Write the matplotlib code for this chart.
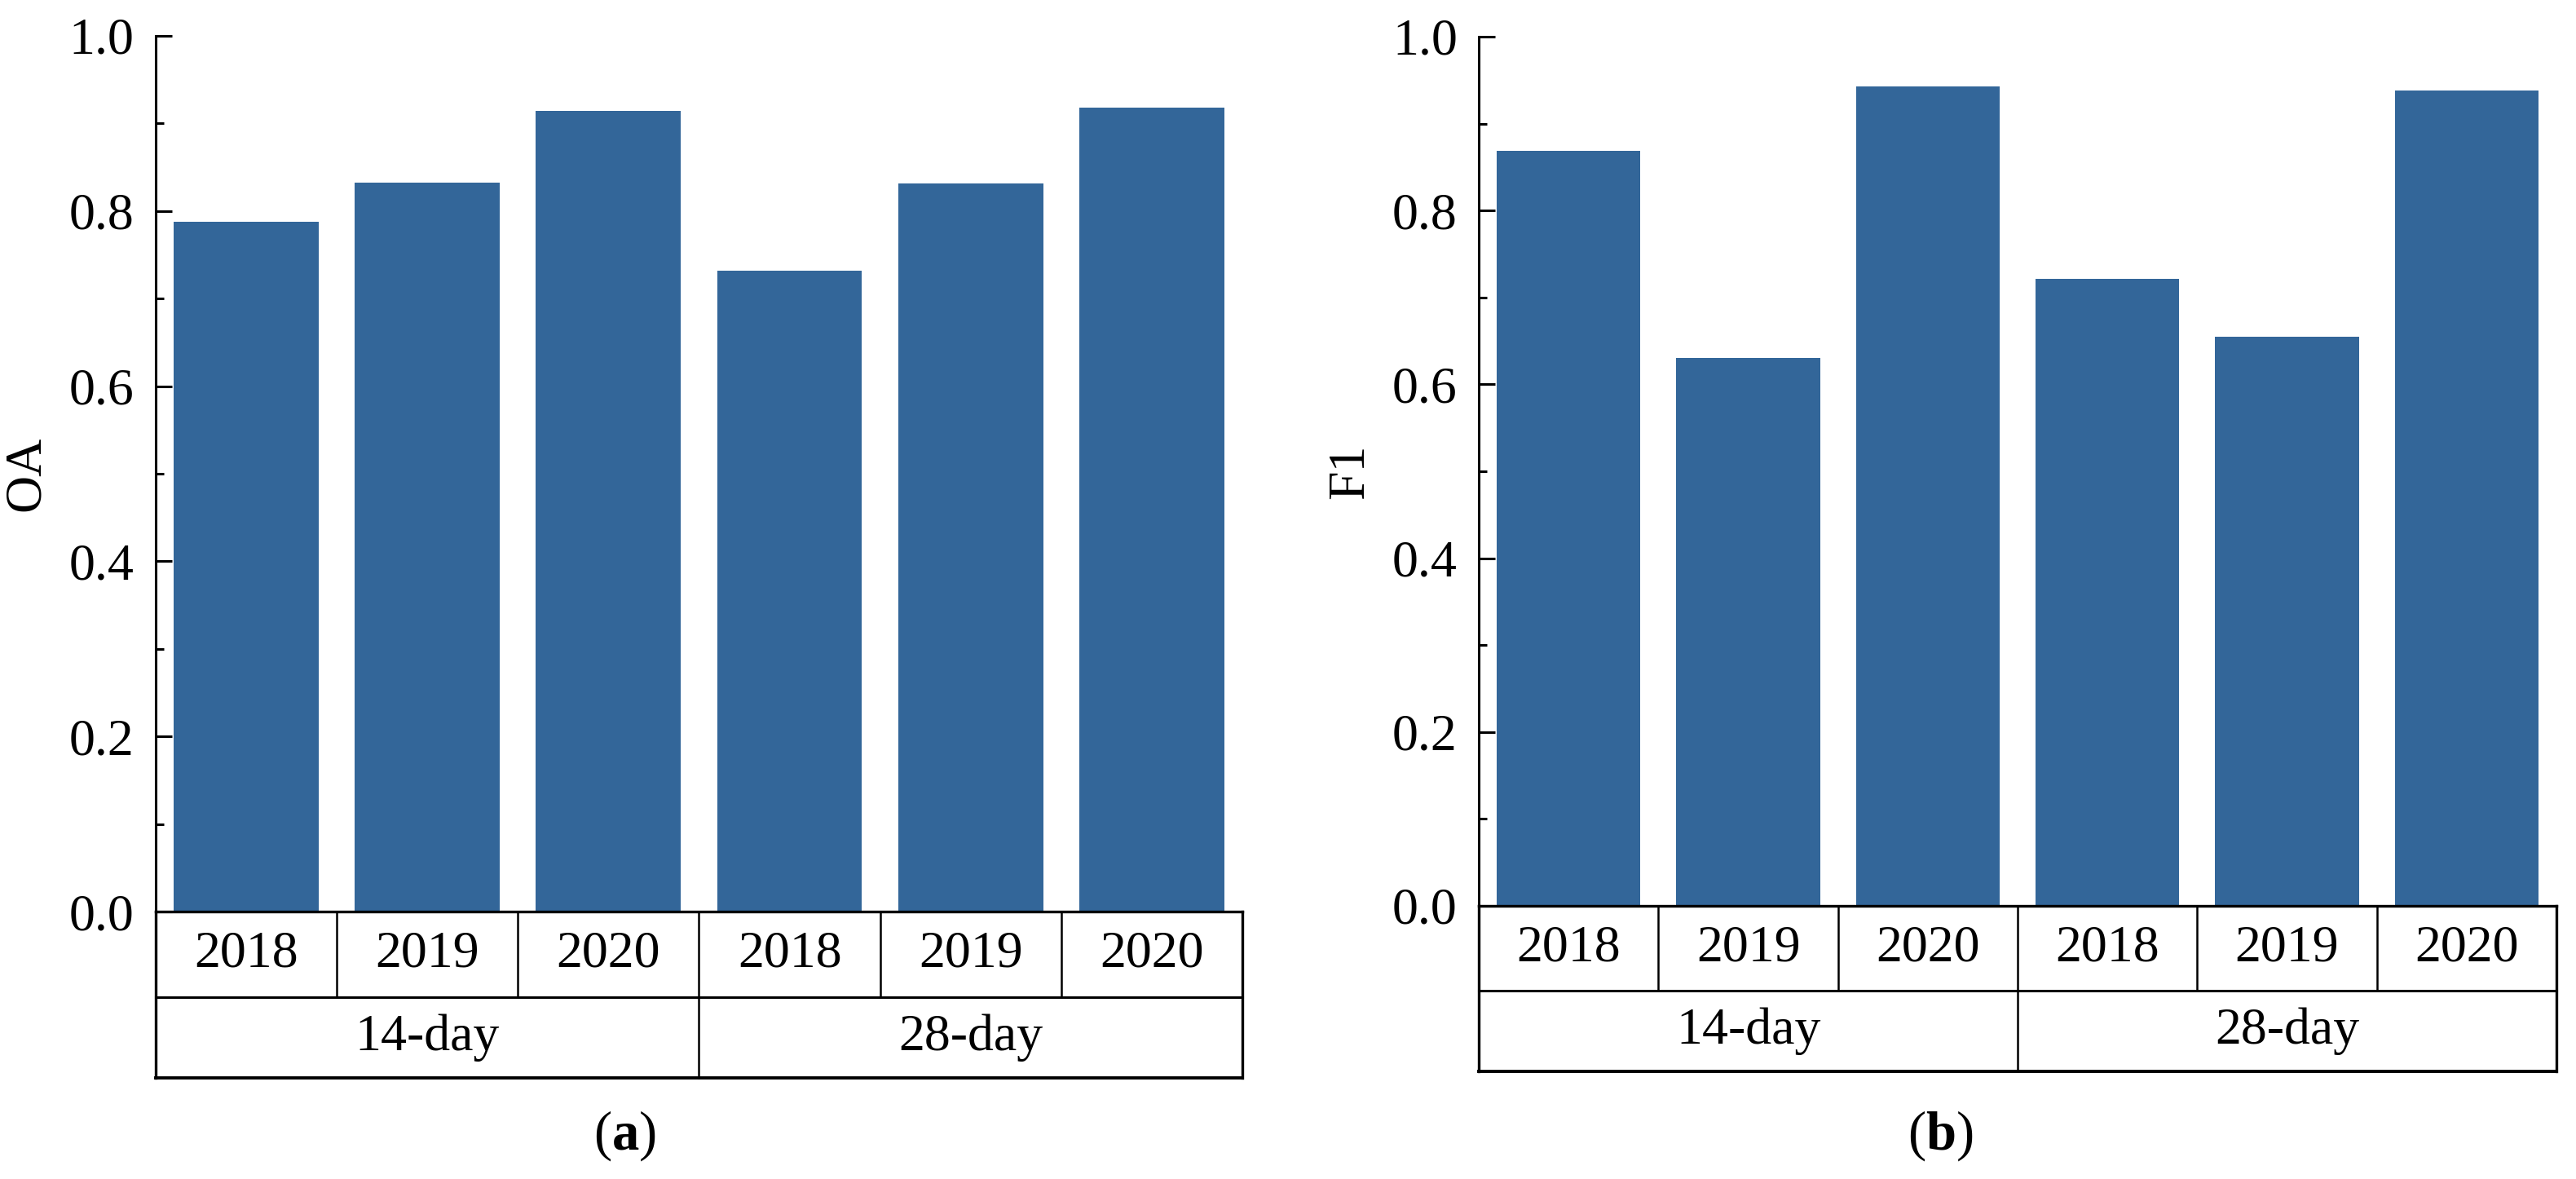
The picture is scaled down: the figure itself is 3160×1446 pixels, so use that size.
import matplotlib
matplotlib.use("Agg")
import matplotlib.pyplot as plt
from matplotlib.ticker import MultipleLocator

plt.rcParams['font.family'] = ['Liberation Serif', 'DejaVu Serif']
plt.rcParams['mathtext.fontset'] = 'custom'
plt.rcParams['mathtext.rm'] = 'Liberation Serif'
plt.rcParams['mathtext.bf'] = 'Liberation Serif:bold'

# data
years = ['2018', '2019', '2020', '2018', '2019', '2020']
groups = ['14-day', '28-day']
oa = [0.788, 0.832, 0.914, 0.732, 0.831, 0.918]
f1 = [0.869, 0.630, 0.943, 0.721, 0.655, 0.938]

bar_color = '#336699'
fs = 46

fig = plt.figure(figsize=(31.6, 14.46), dpi=100)

# axes rectangles in figure fractions (left, bottom, width, height)
ax_a = fig.add_axes([0.0604, 0.2268, 0.4219, 0.7428])
ax_b = fig.add_axes([0.5741, 0.2317, 0.4183, 0.7372])


def draw_panel(ax, values, ylabel):
  xs = range(len(values))
  ax.bar(xs, values, width=0.8, color=bar_color, zorder=2)
  ax.set_xlim(-0.5, len(values) - 0.5)
  ax.set_ylim(0, 1.0)

  for s in ['top', 'right', 'bottom']:
    ax.spines[s].set_visible(False)
  ax.spines['left'].set_linewidth(2.2)

  ax.yaxis.set_major_locator(MultipleLocator(0.2))
  ax.yaxis.set_minor_locator(MultipleLocator(0.1))
  ax.tick_params(axis='y', which='major', direction='in', length=14.5, width=2.2,
                 pad=19, labelsize=fs)
  ax.tick_params(axis='y', which='minor', direction='in', length=7, width=2.2)
  ax.set_yticklabels(['%.1f' % v for v in ax.get_yticks()])
  ax.set_xticks([])
  ax.set_ylabel(ylabel, fontsize=fs)
  ax.yaxis.set_label_coords(-0.097, 0.5)

  # category table below the axis
  tr = ax.get_xaxis_transform()
  n = len(values)
  r1, r2 = -0.098, -0.19
  lo, hi = -0.5, n - 0.5
  kw = dict(transform=tr, clip_on=False, color='black', solid_capstyle='projecting')
  ax.plot([lo, hi], [0, 0], lw=2.4, **kw)
  ax.plot([lo, hi], [r1, r1], lw=2.2, **kw)
  ax.plot([lo, hi], [r2, r2], lw=2.8, **kw)
  ax.plot([lo, lo], [0, r2], lw=2.4, **kw)
  ax.plot([hi, hi], [0, r2], lw=2.4, **kw)
  for i in range(1, n):
    ax.plot([i - 0.5, i - 0.5], [0, r1], lw=1.8, **kw)
  ax.plot([n / 2 - 0.5, n / 2 - 0.5], [r1, r2], lw=1.8, **kw)

  for i, y in enumerate(years):
    ax.text(i, r1 / 2, y, transform=tr, ha='center', va='center', fontsize=fs)
  per = n // len(groups)
  for j, g in enumerate(groups):
    ax.text(j * per + (per - 1) / 2, (r1 + r2) / 2, g, transform=tr,
            ha='center', va='center', fontsize=fs)


draw_panel(ax_a, oa, 'OA')
draw_panel(ax_b, f1, 'F1')

fig.text(766 / 3160, 1 - 1393 / 1446, r'($\mathbf{a}$)', ha='center', va='center', fontsize=48)
fig.text(2380 / 3160, 1 - 1393 / 1446, r'($\mathbf{b}$)', ha='center', va='center', fontsize=48)

fig.savefig('out.png', dpi=100)
